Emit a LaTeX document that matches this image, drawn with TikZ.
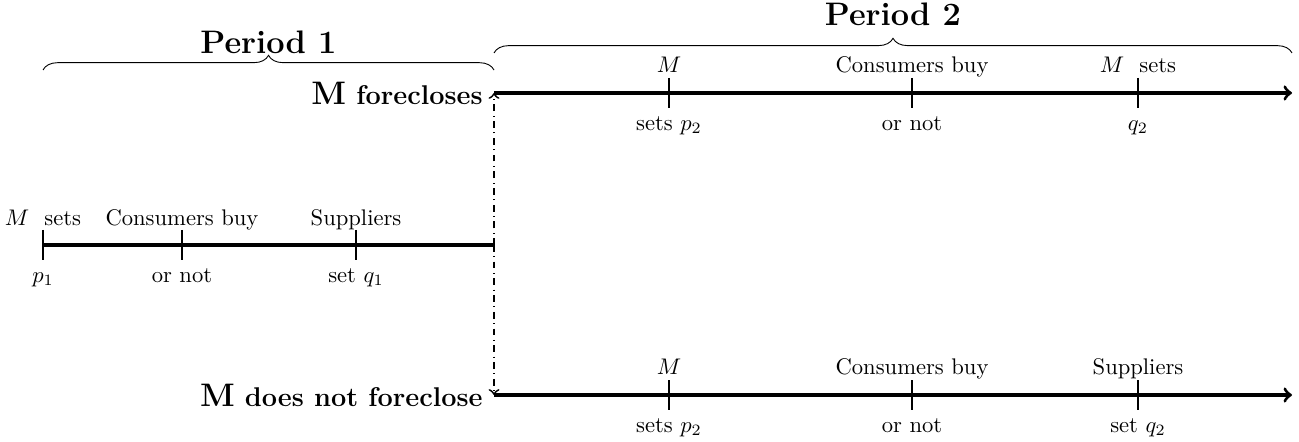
\documentclass[tikz,border=0pt]{standalone}
\usepackage{amsmath}
\usetikzlibrary{positioning, decorations.pathreplacing}

\begin{document}
\begin{tikzpicture}
\tikzstyle{line}=[line width=1.4pt, draw=black]
\tikzstyle{tick}=[line width=1pt, draw=black]
\tikzstyle{lab}=[inner sep=0pt, text height=1.5ex, text depth=0.25ex]
\tikzstyle{branch}=[draw, dash dot, thick, ->]
\tikzstyle{brc}=[draw, decorate, decoration={brace, amplitude=6.5pt}]
\useasboundingbox (0,0) rectangle (20.202,6.874);
% period 1 time line
\coordinate (s1) at (0.669,3.064);
\coordinate (e1) at (7.683,3.064);
\coordinate (a1) at (0.669,3.064);
\coordinate (b1) at (2.830,3.064);
\coordinate (c1) at (5.537,3.064);
% period 2 time lines
\coordinate (s2) at (7.683,5.428);
\coordinate (e2) at (20.093,5.428);
\coordinate (s3) at (7.683,0.731);
\coordinate (e3) at (20.093,0.731);
\coordinate (a2) at (10.404,5.428);
\coordinate (b2) at (14.184,5.428);
\coordinate (c2) at (17.698,5.428);
\coordinate (a3) at (10.404,0.731);
\coordinate (b3) at (14.184,0.731);
\coordinate (c3) at (17.698,0.731);
\draw[line] (s1) -- (e1);
\draw[line, ->] (s2) -- (e2);
\draw[line, ->] (s3) -- (e3);
\foreach \t in {a1,b1,c1,a2,b2,c2,a3,b3,c3}
  \draw[tick] ([yshift=0.233cm]\t) -- ([yshift=-0.233cm]\t);
\draw[branch] (e1) -- (s2);
\draw[branch] (e1) -- (s3);
% labels
\node[lab, above=7.2pt of a1] (a1u) {$M$\ \ sets};
\node[lab, below=9.8pt of a1] (a1d) {$p_1$};
\node[lab, above=7.2pt of b1] (b1u) {Consumers buy};
\node[lab, below=9.8pt of b1] (b1d) {or not};
\node[lab, above=7.2pt of c1] (c1u) {Suppliers};
\node[lab, below=9.8pt of c1] (c1d) {set $q_1$};
\node[lab, above=7.7pt of a2] (a2u) {$M$};
\node[lab, below=9.8pt of a2] (a2d) {sets $p_2$};
\node[lab, above=7.7pt of b2] (b2u) {Consumers buy};
\node[lab, below=9.8pt of b2] (b2d) {or not};
\node[lab, above=7.7pt of c2] (c2u) {$M$\ \ sets};
\node[lab, below=9.8pt of c2] (c2d) {$q_2$};
\node[lab, above=7.7pt of a3] (a3u) {$M$};
\node[lab, below=9.8pt of a3] (a3d) {sets $p_2$};
\node[lab, above=7.7pt of b3] (b3u) {Consumers buy};
\node[lab, below=9.8pt of b3] (b3d) {or not};
\node[lab, above=7.7pt of c3] (c3u) {Suppliers};
\node[lab, below=9.8pt of c3] (c3d) {set $q_2$};
\node[inner sep=0pt, left=0.17cm of s2, font=\large\bfseries] (fc) {{\Large M} forecloses};
\node[inner sep=0pt, left=0.17cm of s3, font=\large\bfseries] (nfc) {{\Large M} does not foreclose};
% periods
\coordinate (p1l) at (0.669,5.785);
\coordinate (p1r) at (7.683,5.785);
\coordinate (p2l) at (7.683,6.05);
\coordinate (p2r) at (20.093,6.05);
\draw[brc] (p1l) -- node[inner sep=0pt, above=7pt, font=\Large\bfseries] (per1) {Period 1} (p1r);
\draw[brc] (p2l) -- node[inner sep=0pt, above=12pt, font=\Large\bfseries] (per2) {Period 2} (p2r);
\end{tikzpicture}
\end{document}
